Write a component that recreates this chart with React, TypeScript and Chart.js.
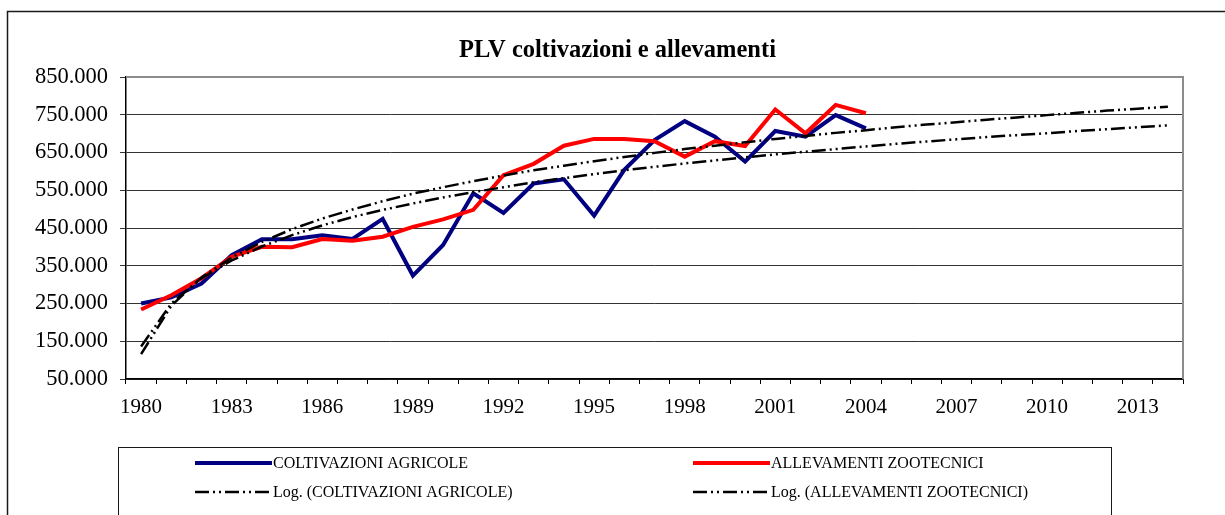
import React, { useEffect, useRef } from "react";
import { Chart, registerables } from "chart.js";

Chart.register(...registerables);

const TITLE = "PLV coltivazioni e allevamenti";

const YEARS = [
  "1980", "1981", "1982", "1983", "1984", "1985", "1986", "1987", "1988", "1989",
  "1990", "1991", "1992", "1993", "1994", "1995", "1996", "1997", "1998", "1999",
  "2000", "2001", "2002", "2003", "2004", "2005", "2006", "2007", "2008", "2009",
  "2010", "2011", "2012", "2013", "2014",
];

const COLTIVAZIONI = [
  250000, 266000, 303000, 378000, 420000, 420000, 431000, 421000, 474000, 324000,
  405000, 542000, 490000, 568000, 579000, 483000, 604000, 683000, 733000, 692000,
  626000, 707000, 692000, 749000, 714000,
];

const ALLEVAMENTI = [
  234000, 272000, 317000, 374000, 400000, 399000, 421000, 416000, 427000, 453000,
  473000, 498000, 590000, 620000, 668000, 686000, 686000, 680000, 639000, 680000,
  667000, 764000, 701000, 776000, 754000,
];

// logarithmic trend lines (extended to 2014)
const LOG_COLTIVAZIONI = [
  136000, 250000, 317000, 364000, 401000, 431000, 457000, 479000, 498000, 515000,
  531000, 545000, 558000, 571000, 582000, 593000, 603000, 612000, 621000, 629000,
  637000, 645000, 652000, 659000, 666000, 673000, 679000, 685000, 691000, 696000,
  701000, 707000, 712000, 717000, 722000,
];

const LOG_ALLEVAMENTI = [
  116000, 244000, 319000, 372000, 413000, 447000, 475000, 499000, 521000, 541000,
  558000, 574000, 589000, 603000, 615000, 627000, 638000, 649000, 659000, 668000,
  677000, 686000, 694000, 702000, 709000, 717000, 724000, 730000, 737000, 743000,
  749000, 755000, 761000, 766000, 771000,
];

const SERIES_LABELS = [
  "COLTIVAZIONI AGRICOLE",
  "ALLEVAMENTI ZOOTECNICI",
  "Log. (COLTIVAZIONI AGRICOLE)",
  "Log. (ALLEVAMENTI ZOOTECNICI)",
];

const Y_MIN = 50000;
const Y_MAX = 850000;
const Y_STEP = 100000;

const SERIF = "'Liberation Serif', 'Times New Roman', serif";
const TREND_DASH = [14, 4, 2, 4, 2, 4];

function fmt(v: number): string {
  return Math.round(v)
    .toString()
    .replace(/\B(?=(\d{3})+(?!\d))/g, ".");
}

const decorPlugin = {
  id: "decor",
  beforeDraw(chart: any) {
    const ctx = chart.ctx;
    ctx.save();
    ctx.fillStyle = "#ffffff";
    ctx.fillRect(0, 0, chart.width, chart.height);
    ctx.strokeStyle = "#1a1a1a";
    ctx.lineWidth = 1.5;
    ctx.strokeRect(7.5, 11.5, chart.width + 40, chart.height + 40);
    ctx.fillStyle = "#000";
    ctx.font = "bold 24.5px " + SERIF;
    ctx.textAlign = "center";
    ctx.textBaseline = "alphabetic";
    ctx.fillText(TITLE, chart.width / 2 + 5, 56.5);
    ctx.restore();
  },
  beforeDatasetsDraw(chart: any) {
    const { ctx, chartArea } = chart;
    ctx.save();
    ctx.strokeStyle = "#8c8c8c";
    ctx.lineWidth = 2;
    ctx.beginPath();
    ctx.moveTo(chartArea.left, chartArea.top);
    ctx.lineTo(chartArea.right, chartArea.top);
    ctx.lineTo(chartArea.right, chartArea.bottom);
    ctx.stroke();
    ctx.restore();
  },
  afterDraw(chart: any) {
    const ctx = chart.ctx;
    ctx.save();
    // legend box
    ctx.strokeStyle = "#1a1a1a";
    ctx.lineWidth = 1;
    ctx.strokeRect(118.5, 447.5, 993, 100);
    const colX = [195, 693];
    const rowY = [463, 492];
    chart.data.datasets.forEach((ds: any, i: number) => {
      const x = colX[i % 2];
      const y = rowY[Math.floor(i / 2)];
      ctx.save();
      ctx.strokeStyle = ds.borderColor;
      ctx.lineWidth = ds.borderWidth;
      ctx.setLineDash(ds.borderDash || []);
      ctx.beginPath();
      ctx.moveTo(x, y);
      ctx.lineTo(x + 77, y);
      ctx.stroke();
      ctx.restore();
      ctx.fillStyle = "#000";
      ctx.font = "16px " + SERIF;
      ctx.textAlign = "left";
      ctx.textBaseline = "middle";
      ctx.fillText(ds.label, x + 78, y + 1);
    });
    ctx.restore();
  },
};

export default function App() {
  const canvasRef = useRef<HTMLCanvasElement | null>(null);

  useEffect(() => {
    const canvas = canvasRef.current;
    if (!canvas) return;
    const chart = new Chart(canvas, {
      type: "line",
      data: {
        labels: YEARS,
        datasets: [
          {
            label: SERIES_LABELS[0],
            data: COLTIVAZIONI,
            borderColor: "#000080",
            backgroundColor: "#000080",
            borderWidth: 4,
            pointRadius: 0,
            tension: 0,
            order: 2,
          },
          {
            label: SERIES_LABELS[1],
            data: ALLEVAMENTI,
            borderColor: "#ff0000",
            backgroundColor: "#ff0000",
            borderWidth: 4,
            pointRadius: 0,
            tension: 0,
            order: 1,
          },
          {
            label: SERIES_LABELS[2],
            data: LOG_COLTIVAZIONI,
            borderColor: "#000000",
            backgroundColor: "#000000",
            borderWidth: 2.5,
            borderDash: TREND_DASH,
            pointRadius: 0,
            tension: 0,
            order: 0,
          },
          {
            label: SERIES_LABELS[3],
            data: LOG_ALLEVAMENTI,
            borderColor: "#000000",
            backgroundColor: "#000000",
            borderWidth: 2.5,
            borderDash: TREND_DASH,
            pointRadius: 0,
            tension: 0,
            order: 0,
          },
        ],
      },
      options: {
        responsive: false,
        animation: false,
        devicePixelRatio: 1,
        layout: { padding: { left: 0, right: 42, top: 77, bottom: 91 } },
        plugins: {
          legend: { display: false },
          title: { display: false },
          tooltip: { enabled: false },
        },
        scales: {
          x: {
            type: "category",
            offset: true,
            grid: {
              offset: true,
              drawOnChartArea: false,
              drawTicks: true,
              tickLength: 5,
              color: "#000",
              lineWidth: 1,
            },
            border: { display: true, color: "#000", width: 1.5 },
            ticks: {
              autoSkip: false,
              maxRotation: 0,
              padding: 11,
              color: "#000",
              font: { family: SERIF, size: 21 },
              callback: (_v: any, i: number) => (i % 3 === 0 ? YEARS[i] : ""),
            },
            afterFit: (s: any) => {
              s.height = 45;
            },
          },
          y: {
            min: Y_MIN,
            max: Y_MAX,
            grid: {
              color: "#333",
              lineWidth: 1,
              drawTicks: true,
              tickLength: 6,
            },
            border: { display: true, color: "#000", width: 1.5 },
            ticks: {
              stepSize: Y_STEP,
              padding: 12,
              color: "#000",
              font: { family: SERIF, size: 22.5 },
              callback: (v: any) => fmt(Number(v)),
            },
            afterFit: (s: any) => {
              s.width = 126;
            },
          },
        },
      },
      plugins: [decorPlugin],
    });
    return () => chart.destroy();
  }, []);

  return (
    <div style={{ position: "absolute", left: 0, top: 0, width: 1225, height: 515 }}>
      <canvas ref={canvasRef} width={1225} height={515} style={{ display: "block" }} />
    </div>
  );
}
